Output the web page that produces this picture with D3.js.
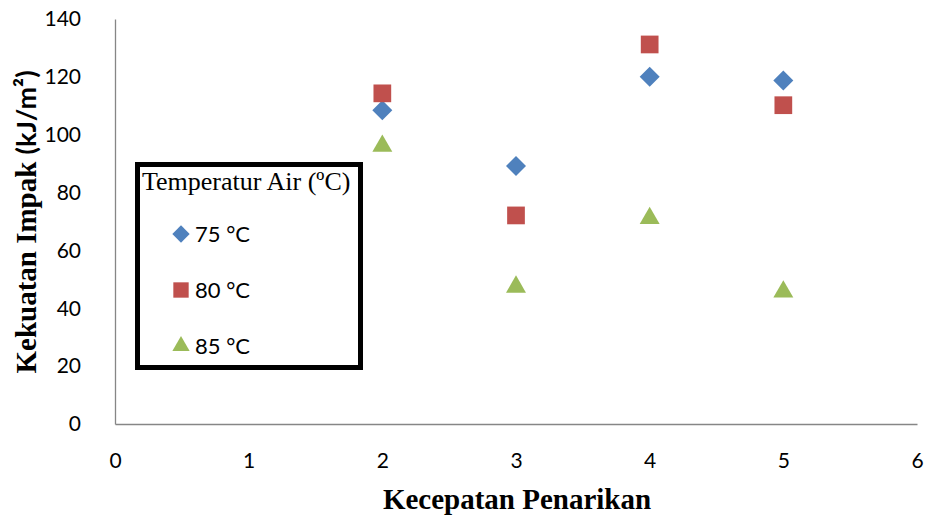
<!DOCTYPE html>
<html>
<head>
<meta charset="utf-8">
<script src="https://cdn.jsdelivr.net/npm/d3@7"></script>
<style>
  html, body { margin: 0; padding: 0; background: #fff; }
  svg { display: block; }
</style>
</head>
<body>
<svg id="chart" width="927" height="518"></svg>
<script>
// Pulling speed (x) and impact strength in kJ/m² for each water temperature
const speeds = [2, 3, 4, 5];
const series75 = [108.5, 89.2, 120.0, 118.7];
const series80 = [114.3, 72.1, 131.2, 110.2];
const series85 = [96.1, 47.4, 71.1, 45.7];
const seriesNames = ["75 °C", "80 °C", "85 °C"];
const xTicks = [0, 1, 2, 3, 4, 5, 6];
const yTicks = [0, 20, 40, 60, 80, 100, 120, 140];

(function () {
const svg = d3.select("#chart");
const plotLeft = 115, plotRight = 917, plotTop = 19, plotBottom = 424;

const x = d3.scaleLinear().domain([0, 6]).range([plotLeft, plotRight]);
const y = d3.scaleLinear().domain([0, 140]).range([plotBottom, plotTop]);

const tickFont = "Lato, 'Open Sans', sans-serif";
const serif = "'Liberation Serif', 'Times New Roman', serif";

// Axes: grey lines, no tick marks
const yAxis = d3.axisLeft(y).tickValues(yTicks).tickSize(0).tickPadding(34).tickFormat(d3.format("d"));
const gy = svg.append("g").attr("transform", `translate(${plotLeft},0)`).call(yAxis);
gy.select(".domain").attr("stroke", "#868686").attr("stroke-width", 1.3);
gy.selectAll("text").attr("font-family", tickFont).attr("font-size", 21).attr("fill", "#000");

const xAxis = d3.axisBottom(x).tickValues(xTicks).tickSize(0).tickPadding(29).tickFormat(d3.format("d"));
const gx = svg.append("g").attr("transform", `translate(0,${plotBottom})`).call(xAxis);
gx.select(".domain").attr("stroke", "#868686").attr("stroke-width", 1.3);
gx.selectAll("text").attr("font-family", tickFont).attr("font-size", 21).attr("fill", "#000");

// Axis titles
svg.append("text")
  .attr("x", 517).attr("y", 509)
  .attr("text-anchor", "middle")
  .attr("font-family", serif).attr("font-weight", "bold").attr("font-size", 29)
  .text("Kecepatan Penarikan");

const yTitle = svg.append("text")
  .attr("transform", "translate(36,222) rotate(-90)")
  .attr("text-anchor", "middle")
  .attr("font-weight", "bold").attr("font-size", 29);
yTitle.append("tspan").attr("font-family", serif).text("Kekuatan Impak ");
yTitle.append("tspan").attr("font-family", tickFont).attr("font-size", 27).text("(kJ/m²)");

// Marker shapes per series
const markers = [
  { data: series75, color: "#4F81BD", shape: d3.symbolDiamond2, size: 255 },
  { data: series80, color: "#C0504D", shape: d3.symbolSquare2, size: 400 },
  { data: series85, color: "#9BBB59", shape: d3.symbolTriangle2, size: 285 }
];

markers.forEach(m => {
  svg.append("g").selectAll("path")
    .data(speeds.map((s, i) => [s, m.data[i]]))
    .join("path")
    .attr("d", d3.symbol().type(m.shape).size(m.size))
    .attr("transform", d => `translate(${x(d[0])},${y(d[1])})`)
    .attr("fill", m.color);
});

// Legend box
const lg = svg.append("g");
lg.append("rect")
  .attr("x", 137.5).attr("y", 164.5).attr("width", 223).attr("height", 203)
  .attr("fill", "#fff").attr("stroke", "#000").attr("stroke-width", 5);
lg.append("text")
  .attr("x", 142).attr("y", 190)
  .attr("font-family", serif).attr("font-size", 26)
  .text("Temperatur Air (ºC)");

const rowsY = [234, 290, 346];
markers.forEach((m, i) => {
  lg.append("path")
    .attr("d", d3.symbol().type(m.shape).size(m.size * 0.75))
    .attr("transform", `translate(181,${rowsY[i]})`)
    .attr("fill", m.color);
  lg.append("text")
    .attr("x", 195).attr("y", rowsY[i] + 8)
    .attr("font-family", tickFont).attr("font-size", 22)
    .text(seriesNames[i]);
});
})();
</script>
</body>
</html>
